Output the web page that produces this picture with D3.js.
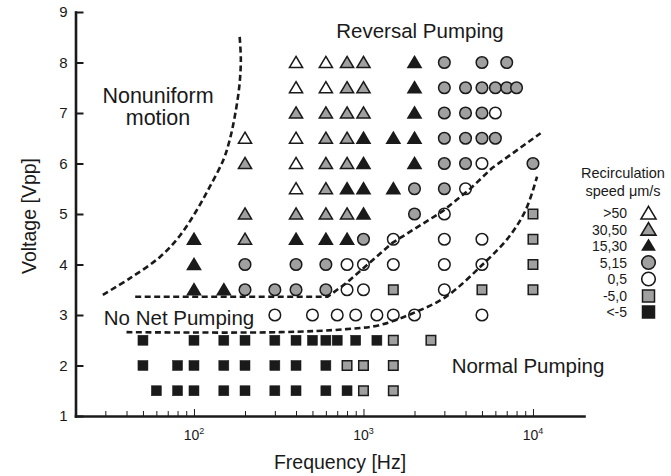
<!DOCTYPE html>
<html><head><meta charset="utf-8">
<script src="https://cdn.jsdelivr.net/npm/d3@7"></script>
<style>
body{margin:0;background:#fff}
text{font-family:"Liberation Sans",Arial,sans-serif;fill:#1a1a1a}
</style>
</head><body>
<svg id="c" width="671" height="476"></svg>
<script>
// ---------- data ----------
const categories = [">50","30,50","15,30","5,15","0,5","-5,0","<-5"];
// [frequency Hz, voltage Vpp]
const openTri = [[400,8],[600,8],[400,7.5],[600,7.5],[200,6.5],[400,6.5],[400,6],[400,5.5]];
const grayTri = [[800,8],[1000,8],[800,7.5],[1000,7.5],[400,7],[600,7],[800,7],[1000,7],
  [600,6.5],[800,6.5],[200,6],[600,6],[800,6],[600,5.5],[200,5],[400,5],[600,5],[800,5],[200,4.5]];
const blackTri = [[2000,8],[2000,7.5],[2000,7],[1000,6.5],[1500,6.5],[2000,6.5],[1000,6],[2000,6],
  [800,5.5],[1000,5.5],[1500,5.5],[1000,5],[100,4.5],[400,4.5],[600,4.5],[800,4.5],[100,4],[100,3.5],[150,3.5]];
const grayCirc = [[3000,8],[5000,8],[7000,8],[3000,7.5],[4000,7.5],[5000,7.5],[6000,7.5],[7000,7.5],[8000,7.5],
  [3000,7],[4000,7],[5000,7],[3000,6.5],[4000,6.5],[5000,6.5],[6000,6.5],[3000,6],[4000,6],[10000,6],
  [2000,5.5],[3000,5.5],[2000,5],[1000,4.5],[200,4],[400,4],[600,4],[200,3.5],[300,3.5],[400,3.5],[600,3.5]];
const openCirc = [[6000,7],[5000,6],[4000,5.5],[3000,5],[1500,4.5],[3000,4.5],[5000,4.5],
  [800,4],[1000,4],[1500,4],[3000,4],[5000,4],[800,3.5],[1000,3.5],[3000,3.5],
  [300,3],[500,3],[700,3],[900,3],[1200,3],[1500,3],[2000,3],[5000,3]];
const graySq = [[10000,5],[10000,4.5],[10000,4],[1500,3.5],[5000,3.5],[10000,3.5],[1500,2.5],[2500,2.5],
  [800,2],[1000,2],[1500,2],[1000,1.5],[1500,1.5]];
const blackSq = [[50,2.5],[100,2.5],[150,2.5],[200,2.5],[300,2.5],[400,2.5],[500,2.5],[600,2.5],[700,2.5],[900,2.5],[1200,2.5],
  [50,2],[80,2],[100,2],[150,2],[200,2],[300,2],[400,2],[600,2],
  [60,1.5],[80,1.5],[100,1.5],[150,1.5],[200,1.5],[300,1.5],[400,1.5],[600,1.5],[800,1.5]];

// region boundaries (dashed)
const nonuniformLine = [[29,3.4],[42,3.73],[63,4.15],[83,4.58],[104,5.08],[124,5.54],[149,6.07],[162,6.45],[174,6.93],[185,7.52],[189,8.05],[186,8.51]];
const reversalLine = [[45,3.36],[614,3.36],[790,3.63],[1483,4.43],[2917,5.05],[4206,5.48],[5740,5.91],[11090,6.6]];
const normalLine = [[40,2.66],[321,2.66],[791,2.72],[1242,2.8],[1941,3.03],[3063,3.36],[5012,3.99],[7228,4.55],[9060,5.08],[10570,5.74]];

const yTicks = [1,2,3,4,5,6,7,8,9];
const xMajor = [100,1000,10000];
const xMajorExp = ["2","3","4"];

// ---------- chart ----------
const svg = d3.select("#c");
const x = d3.scaleLog().domain([20,20000]).range([75.5,584]);
const y = d3.scaleLinear().domain([1,9]).range([416,12]);

const GRAY = "#a0a0a0", BLACK = "#1a1a1a";

// x axis
const xTickVals = [];
[10,100,1000].forEach(d=>{for(let k=1;k<=9;k++){const v=d*k; if(v>=20) xTickVals.push(v);}});
xTickVals.push(10000);
const gx = svg.append("g").attr("transform",`translate(0,${y(1)})`)
  .call(d3.axisBottom(x).tickValues(xTickVals).tickSizeInner(-5).tickSizeOuter(0).tickFormat(""));
gx.select(".domain").attr("stroke",BLACK).attr("stroke-width",2.6).attr("stroke-linecap","square");
gx.selectAll(".tick line").attr("stroke",BLACK).attr("stroke-width",1)
  .attr("y2", d=> xMajor.includes(d) ? -7 : -5);
xMajor.forEach((v,i)=>{
  const t = gx.append("text").attr("x",x(v)).attr("y",24).attr("text-anchor","middle")
     .style("font-size","14px");
  t.append("tspan").text("10");
  t.append("tspan").attr("dy",-6).style("font-size","9px").text(xMajorExp[i]);
});

// y axis
const gy = svg.append("g").attr("transform",`translate(${x(20)},0)`)
  .call(d3.axisLeft(y).tickValues(yTicks).tickSizeInner(-8).tickSizeOuter(0).tickPadding(8).tickFormat(d3.format("d")));
gy.select(".domain").attr("stroke",BLACK).attr("stroke-width",2.6).attr("stroke-linecap","square");
gy.selectAll(".tick line").attr("stroke",BLACK).attr("stroke-width",2);
gy.selectAll(".tick text").style("font-size","15px").attr("fill",BLACK);

// axis titles
svg.append("text").attr("x",340).attr("y",469).attr("text-anchor","middle").style("font-size","19.5px").text("Frequency [Hz]");
svg.append("text").attr("transform","translate(36,216) rotate(-90)").attr("text-anchor","middle").style("font-size","19.5px").text("Voltage [Vpp]");

// marker shapes
const triPath = (w,h)=>`M0,${-h*0.55}L${w/2},${h*0.45}L${-w/2},${h*0.45}Z`;
function drawTri(data, fill, w=13, h=11){
  svg.append("g").selectAll("path").data(data).join("path")
    .attr("transform",d=>`translate(${x(d[0])},${y(d[1])})`)
    .attr("d",triPath(w,h)).attr("fill",fill).attr("stroke",BLACK).attr("stroke-width",1.6).attr("stroke-linejoin","miter");
}
function drawCirc(data, fill, r=5.8){
  svg.append("g").selectAll("circle").data(data).join("circle")
    .attr("cx",d=>x(d[0])).attr("cy",d=>y(d[1])).attr("r",r)
    .attr("fill",fill).attr("stroke",BLACK).attr("stroke-width",1.5);
}
function drawSq(data, fill, s=10){
  svg.append("g").selectAll("rect").data(data).join("rect")
    .attr("x",d=>x(d[0])-s/2).attr("y",d=>y(d[1])-s/2).attr("width",s).attr("height",s)
    .attr("fill",fill).attr("stroke",BLACK).attr("stroke-width",fill===BLACK?0.5:1.5);
}
drawTri(openTri,"#fff");
drawTri(grayTri,GRAY);
drawTri(blackTri,BLACK);
drawCirc(grayCirc,GRAY);
drawCirc(openCirc,"#fff");
drawSq(graySq,GRAY,9.5);
drawSq(blackSq,BLACK,10);

// dashed boundaries
const line = d3.line().x(d=>x(d[0])).y(d=>y(d[1]));
[[nonuniformLine,d3.curveCatmullRom],[reversalLine,d3.curveLinear],[normalLine,d3.curveCatmullRom]].forEach(([pts,c])=>{
  svg.append("path").attr("d",line.curve(c)(pts)).attr("fill","none")
    .attr("stroke",BLACK).attr("stroke-width",2.6).attr("stroke-dasharray","6,3.5");
});

// region labels
const lab = (t,xx,yy,fs)=>svg.append("text").attr("x",xx).attr("y",yy).attr("text-anchor","middle").style("font-size",fs+"px").text(t);
lab("Reversal Pumping",420,38,20.5);
lab("Nonuniform",158,103,21.5);
lab("motion",158,125,21.5);
lab("No Net Pumping",179,325,20.5);
lab("Normal Pumping",528,373,20.5);

// legend
svg.append("text").attr("x",623).attr("y",178).attr("text-anchor","middle").style("font-size","14.5px").text("Recirculation");
svg.append("text").attr("x",623).attr("y",196).attr("text-anchor","middle").style("font-size","14.5px").text("speed \u03bcm/s");
const legY = [213.3,229.5,245.5,262.5,279,296,312];
const lg = svg.append("g");
categories.forEach((c,i)=>{
  lg.append("text").attr("x",627).attr("y",legY[i]+5).attr("text-anchor","end")
    .style("font-family","'Liberation Sans Narrow','Arial Narrow',sans-serif").style("font-size","14px").text(c);
  const g = lg.append("g").attr("transform",`translate(648.5,${legY[i]})`);
  if(i<3){
    const w = i===2?12:15, h = i===2?10:12.5;
    g.append("path").attr("d",triPath(w,h)).attr("fill",["#fff",GRAY,BLACK][i]).attr("stroke",BLACK).attr("stroke-width",1.6);
  } else if(i<5){
    g.append("circle").attr("r",6.8).attr("fill",i===3?GRAY:"#fff").attr("stroke",BLACK).attr("stroke-width",1.6);
  } else {
    g.append("rect").attr("x",-6).attr("y",-6).attr("width",12).attr("height",12)
      .attr("fill",i===5?GRAY:BLACK).attr("stroke",BLACK).attr("stroke-width",1.5);
  }
});
</script>
</body></html>
